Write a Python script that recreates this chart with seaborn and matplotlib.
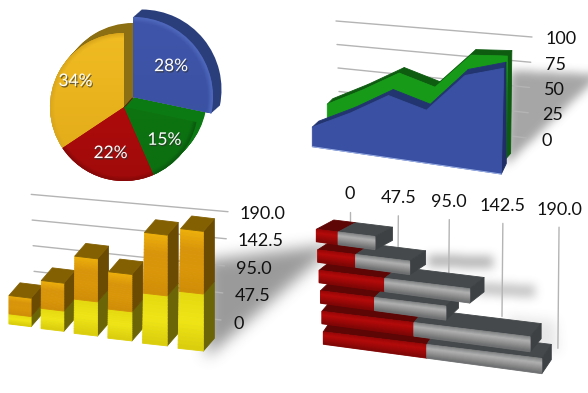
import numpy as np
import pandas as pd
import matplotlib
matplotlib.use('Agg')
import matplotlib.pyplot as plt
import matplotlib.patheffects as pe
from matplotlib.path import Path
from matplotlib.patches import Polygon
from matplotlib.colors import to_rgb
import seaborn as sns

# data
pie_values = [34, 22, 15, 28]
pie_labels = ['34%', '22%', '15%', '28%']

area_back = [25, 43, 63, 55, 89, 93]
area_front = [17, 34, 54, 46, 81, 92]
area_ticks = [0, 25, 50, 75, 100]

bar_lower = [16, 32, 54, 46, 79, 90]
bar_upper = [29, 44, 68, 59, 96, 99]

hbar_red = [19, 33, 57, 47, 80, 90]
hbar_gray = [32, 47, 74, 62, 101, 100]
stack_ticks = [0, 47.5, 95.0, 142.5, 190.0]
stack_tick_labels = ['0', '47.5', '95.0', '142.5', '190.0']

sns.set_theme(style='white')
plt.rcParams['font.family'] = ['Lato', 'DejaVu Sans']
W, H = 588, 393
GRID = '#b4b4b4'
fig = plt.figure(figsize=(W / 100, H / 100), dpi=100, facecolor='white')


def panel(x, y, w, h, flip=True):
    ax = fig.add_axes([x / W, 1 - (y + h) / H, w / W, h / H])
    ax.axis('off')
    ax.set_xlim(x, x + w)
    if flip:
        ax.set_ylim(y + h, y)
    else:
        ax.set_ylim(H - y - h, H - y)
    ax.set_autoscale_on(False)
    return ax


def quad(ax, pts, color, z):
    ax.add_patch(Polygon(pts, closed=True, fc=color, ec=color, lw=0.6, joinstyle='round', zorder=z))


def strips(ax, top_a, top_b, bot_a, bot_b, stops, z, n=14):
    # front face with colour bands running along its length
    top_a, top_b, bot_a, bot_b = map(np.array, (top_a, top_b, bot_a, bot_b))
    pos = np.linspace(0, 1, len(stops))
    cols = np.array([to_rgb(c) for c in stops])
    for i in range(n):
        t0, t1 = i / n, (i + 1) / n
        c = [np.interp((t0 + t1) / 2, pos, cols[:, j]) for j in range(3)]
        quad(ax, [top_a + (bot_a - top_a) * t0, top_b + (bot_b - top_b) * t0,
                  top_b + (bot_b - top_b) * t1, top_a + (bot_a - top_a) * t1], c, z)


def soft_shadow(ax, pts, blur, alpha, z=0):
    pts = np.array(pts, float)
    x0, y0 = pts.min(axis=0) - blur * 2
    x1, y1 = pts.max(axis=0) + blur * 2
    xx, yy = np.meshgrid(np.arange(x0, x1), np.arange(y0, y1))
    m = Path(pts).contains_points(np.c_[xx.ravel(), yy.ravel()]).reshape(xx.shape).astype(float)
    kernel = np.ones(int(blur)) / int(blur)
    for _ in range(3):
        m = np.apply_along_axis(lambda r: np.convolve(r, kernel, mode='same'), 0, m)
        m = np.apply_along_axis(lambda r: np.convolve(r, kernel, mode='same'), 1, m)
    rgba = np.zeros(m.shape + (4,))
    rgba[..., :3] = 0.42
    rgba[..., 3] = m * alpha
    ax.imshow(rgba, extent=(x0, x1, y1, y0), origin='upper', aspect='auto', zorder=z, interpolation='bilinear')


def grid_line(ax, x, y):
    sns.lineplot(x=x, y=y, sort=False, estimator=None, color=GRID, lw=1, ax=ax, legend=False, zorder=1)


# ---- pie
ax = panel(0, 0, 294, 190, flip=False)
main_c, main_r = np.array([124.0, 83.0]), 74
blue_c, blue_r = np.array([133.0, 93.0]), 80


def pie_layer(center, radius, colors, z, keep):
    wedges, _ = ax.pie(pie_values, colors=colors, startangle=90, center=tuple(center), radius=radius,
                       wedgeprops={'zorder': z, 'lw': 0})
    for i, w in enumerate(wedges):
        if i not in keep:
            w.set_visible(False)
    return wedges


def shade_wedge(w, center, radius, top, bottom, rim, z):
    n = 120
    yy, xx = np.mgrid[1:-1:n * 1j, -1:1:n * 1j]
    f = ((1 - yy) / 2)[..., None]
    rgb = np.array(to_rgb(top)) * (1 - f) + np.array(to_rgb(bottom)) * f
    edge = np.clip((np.hypot(xx, yy) - 0.94) / 0.06, 0, 1)[..., None]
    rgb = rgb * (1 - edge) + np.array(to_rgb(rim)) * edge
    im = ax.imshow(rgb, extent=(center[0] - radius, center[0] + radius, center[1] - radius, center[1] + radius),
                   origin='upper', aspect='auto', zorder=z)
    im.set_clip_path(w)


for t in np.linspace(1, 0, 12):
    pie_layer(main_c + (blue_c - main_c) * t, main_r, ['#8c6f12', '#6d0808', '#0c7a12', '#000000'], 1, [0, 1, 2])
main = pie_layer(main_c, main_r, ['#e5ab1c', '#ab0b0b', '#0d7513', '#000000'], 2, [0, 1, 2])
shade_wedge(main[0], main_c, main_r, '#f0bc22', '#e0a818', '#dba81c', 3)
shade_wedge(main[1], main_c, main_r, '#bc0c0c', '#a00a0a', '#860808', 3)
shade_wedge(main[2], main_c, main_r, '#0c7a12', '#0c6e10', '#0a5a0e', 3)

for t in np.linspace(1, 0, 12):
    pie_layer(blue_c + np.array([8.5, 7.5]) * t, blue_r, ['k', 'k', 'k', '#2a3e7c'], 4, [3])
blue = pie_layer(blue_c, blue_r, ['k', 'k', 'k', '#3c52a5'], 5, [3])
shade_wedge(blue[3], blue_c, blue_r, '#3f55aa', '#38509f', '#4f68bc', 6)

shadow = [pe.withSimplePatchShadow(offset=(0.8, -1), shadow_rgbFace='#333333', alpha=0.7)]
label_r = [55, 48, 52, 49]
for i, w in enumerate(main[:3] + blue[3:]):
    mid = np.radians((w.theta1 + w.theta2) / 2)
    c = main_c if i < 3 else blue_c
    ax.text(c[0] + label_r[i] * np.cos(mid), c[1] + label_r[i] * np.sin(mid), pie_labels[i], color='white',
            fontsize=12.5, ha='center', va='center', zorder=8, path_effects=shadow)
ax.set_xlim(0, 294)
ax.set_ylim(0, 190)
ax.set_aspect('auto')

# ---- stacked area
ax = panel(294, 0, 294, 190)
soft_shadow(ax, [(510, 70), (600, 74), (505, 165)], 9, 0.6)
for v in area_ticks:
    grid_line(ax, [340 - 0.04 * v, 527 + 0.05 * v], [115 - 0.94 * v, 138 - 1.01 * v])
    ax.text(541 + 0.05 * v, 141 - 1.02 * v, str(v), fontsize=13, color='#111111', ha='left', va='center', zorder=9)


def area_pt(k, v, x0, step, y0, rise, scale, lean):
    h = v * scale
    return np.array([x0 + step * k + lean * k * h, y0 + rise * k - h])


def area_layer(vals, x0, step, y0, rise, scale, lean, depth, front, band, side, z, base_depth):
    top = [area_pt(k, v, x0, step, y0, rise, scale, lean) for k, v in enumerate(vals)]
    base = [area_pt(k, 0, x0, step, y0, rise, scale, lean) for k in range(len(vals))]
    for k in range(len(vals) - 1):
        quad(ax, [top[k], top[k + 1], top[k + 1] + depth(k + 1), top[k] + depth(k)], band, z)
    quad(ax, [top[-1], top[-1] + depth(5), base[-1] + base_depth, base[-1]], side, z)
    quad(ax, top + base[::-1], front, z + 1)
    return top, base


area_layer(area_back, 327.3, 35.8, 131.7, 5.33, 1.1, 0.002, lambda k: np.array([5.5 - 0.2 * k, -5.5]),
           '#169a17', '#0d5c10', '#0d5c10', 3, np.array([4.3, -5.0]))
top, base = area_layer(area_front, 312.3, 37.8, 146.7, 5.47, 1.15, 0.0046,
                       lambda k: np.array([6.5 - 0.85 * k, -6.0]), '#3a50a3', '#233571', '#1f2f66', 5,
                       np.array([5.0, -10.5]))
ax.plot(*zip(base[0], base[-1]), color='#9db2e6', lw=0.7, zorder=7)

# ---- stacked bars
ax = panel(0, 185, 330, 208)
soft_shadow(ax, [(205, 258), (335, 242), (205, 355)], 14, 0.68)
for v, lab in zip(stack_ticks, stack_tick_labels):
    grid_line(ax, [35 - 0.02 * v, 221 + 0.037 * v], [297 - 0.54 * v, 320 - 0.57 * v])
    ax.text(233 + 0.033 * v, 324 - 0.58 * v, lab, fontsize=13, color='#111111', ha='left', va='center', zorder=9)

dx, dy = 11.0, -12.7
scale = 0.633
for k, (lo, up) in enumerate(zip(bar_lower, bar_upper)):
    x = 9 + 31.7 * k + 0.42 * k ** 2
    w = 22 + 0.67 * k
    y_l = 324 + (x - 9) * 0.144
    y_r = y_l + 2.7
    z = 3 + k


    def front_pts(v0, v1):
        s0, s1 = 0.0045 * k * v0 * scale, 0.0045 * k * v1 * scale
        return [(x + s1, y_l - v1 * scale), (x + w, y_r - v1 * scale), (x + w, y_r - v0 * scale),
                (x + s0, y_l - v0 * scale)]


    def side_pts(v0, v1):
        return [(x + w, y_r - v1 * scale), (x + w + dx, y_r - v1 * scale + dy),
                (x + w + dx, y_r - v0 * scale + dy), (x + w, y_r - v0 * scale)]


    quad(ax, side_pts(0, lo), '#6b6508', z)
    quad(ax, side_pts(lo, lo + up), '#6b4b02', z)
    fp = front_pts(0, lo)
    strips(ax, fp[0], fp[1], fp[3], fp[2], ['#e4d80e', '#efe516', '#d9cc0c'], z)
    fp = front_pts(lo, lo + up)
    strips(ax, fp[0], fp[1], fp[3], fp[2], ['#edb00a', '#d8940a', '#da9608', '#cf8c06'], z, n=18)
    top_a, top_b = np.array(fp[0]), np.array(fp[1])
    quad(ax, [top_a, top_b, top_b + (dx, dy), top_a + (dx, dy)], '#836002', z)

# ---- horizontal stacked bars
ax = panel(294, 185, 294, 208)
for v, lab in zip(stack_ticks, stack_tick_labels):
    x = 350 + 0.99 * v + 0.00058 * v ** 2
    grid_line(ax, [x, x - 0.006 * v], [212 + 0.08 * v, 221 + 0.67 * v])
    ax.text(x, 194.5 + 0.084 * v, lab, fontsize=13, color='#111111', ha='center', va='center', zorder=9)
for pts, b, a in [([(428, 254), (492, 256), (492, 268), (428, 266)], 9, 0.5),
                  ([(478, 282), (534, 285), (534, 297), (478, 294)], 9, 0.4),
                  ([(505, 315), (555, 320), (558, 352), (520, 345)], 11, 0.16)]:
    soft_shadow(ax, pts, b, a)


def hbar_pt(i, v, bottom):
    x0 = 316.3 + 1.4 * i
    y0 = 229.3 + 20.5 * i
    dist = v * 1.15
    thick = 12.5 + 0.0125 * dist
    return np.array([x0 + dist, y0 + 0.122 * dist + (thick if bottom else 0)])


# upper bars sit in front of the lower ones here
for i, (r, g) in enumerate(zip(hbar_red, hbar_gray)):
    depth = np.array([17.5 - 1.6 * i, -9.3 - 0.95 * i])
    z = 10 - i
    end = r + g
    quad(ax, [hbar_pt(i, 0, 0), hbar_pt(i, r, 0), hbar_pt(i, r, 0) + depth, hbar_pt(i, 0, 0) + depth], '#5e0505', z)
    quad(ax, [hbar_pt(i, r, 0), hbar_pt(i, end, 0), hbar_pt(i, end, 0) + depth, hbar_pt(i, r, 0) + depth], '#45494b', z)
    quad(ax, [hbar_pt(i, end, 0), hbar_pt(i, end, 0) + depth, hbar_pt(i, end, 1) + depth, hbar_pt(i, end, 1)],
         '#3d4143', z)
    strips(ax, hbar_pt(i, 0, 0), hbar_pt(i, r, 0), hbar_pt(i, 0, 1), hbar_pt(i, r, 1),
           ['#960606', '#b40a0a', '#9c0808', '#7e0606'], z)
    strips(ax, hbar_pt(i, r, 0), hbar_pt(i, end, 0), hbar_pt(i, r, 1), hbar_pt(i, end, 1),
           ['#7d7f80', '#b0b0b0', '#8f8f8f', '#6a6c6d'], z)

fig.savefig('out.png', dpi=100)
